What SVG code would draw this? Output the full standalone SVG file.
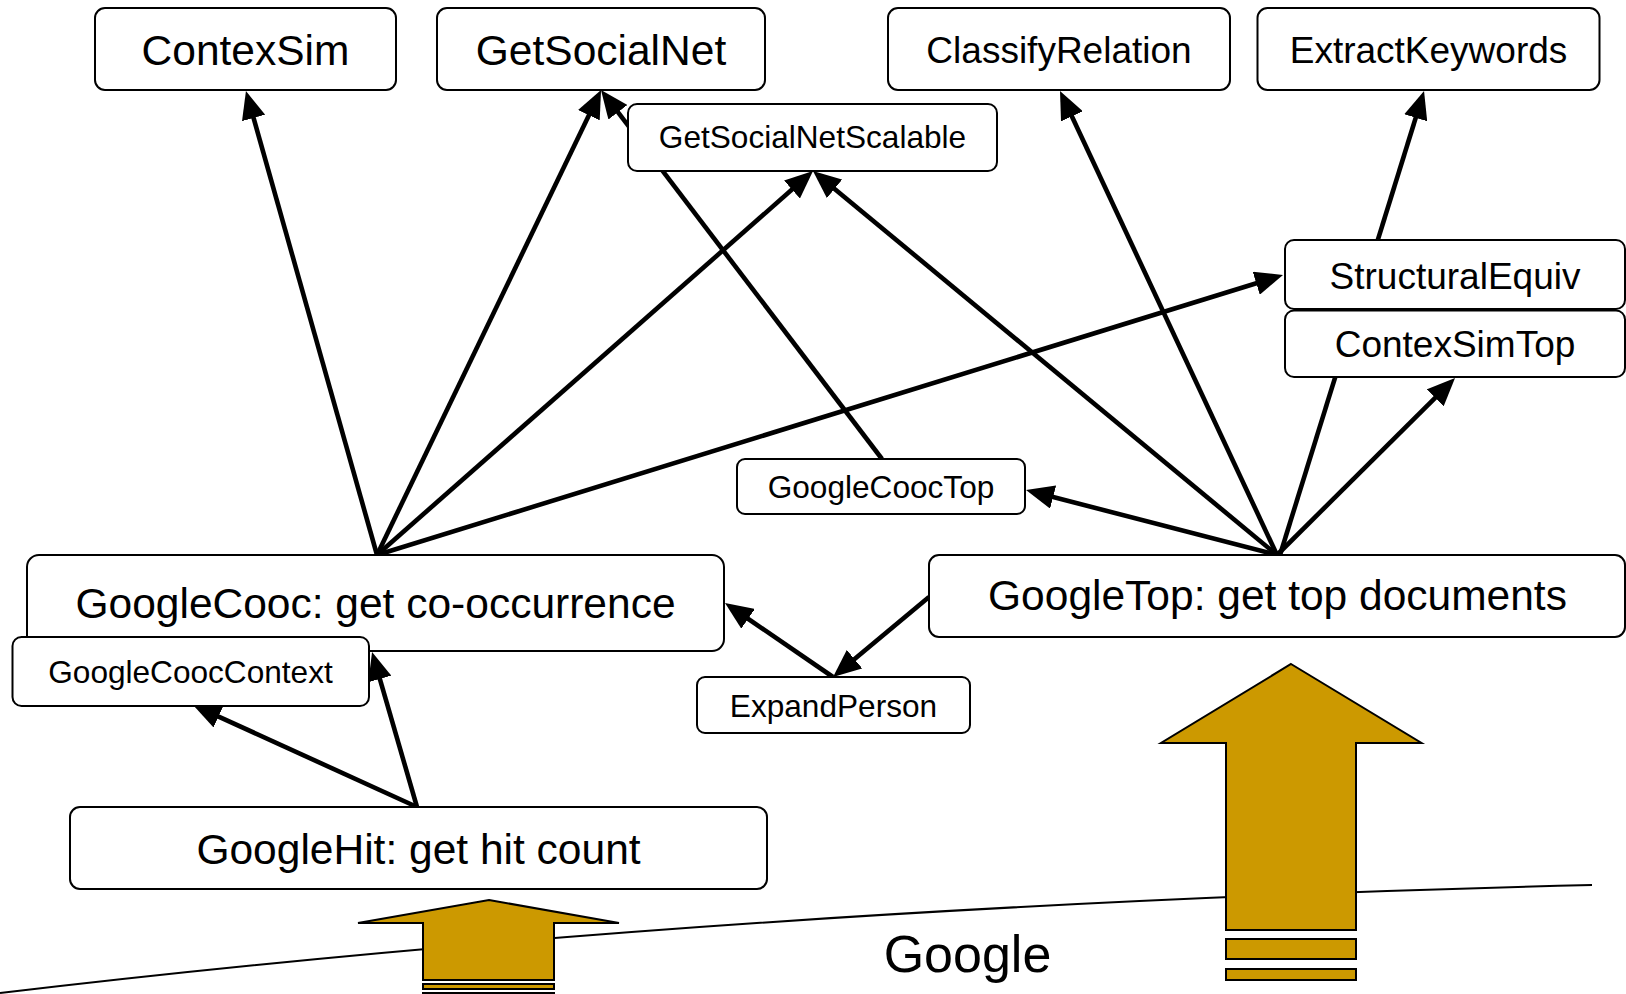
<svg xmlns="http://www.w3.org/2000/svg" width="1626" height="994" viewBox="0 0 1626 994">
<style>
.box{fill:#fff;stroke:#000;stroke-width:2}
.t{font-family:"Liberation Sans",Arial,sans-serif;text-anchor:middle;fill:#000}
.lg{font-size:42.5px}
.md{font-size:37px}
.sm{font-size:31.6px}
.c{stroke:#000;stroke-width:4.6;fill:none;marker-end:url(#ah)}
.big{fill:#CC9900;stroke:#000;stroke-width:2}
</style>
<defs>
<marker id="ah" viewBox="0 0 28 24" refX="12" refY="12" markerWidth="28" markerHeight="24" markerUnits="userSpaceOnUse" orient="auto">
<path d="M0,0 L28,12 L0,24 z" fill="#000"/>
</marker>
</defs>
<rect width="1626" height="994" fill="#fff"/>
<g id="background">
<path d="M0,993 C530,930 1060,898 1592,885" fill="none" stroke="#000" stroke-width="2"/>
<text class="t" x="967.5" y="972" font-size="52">Google</text>
<polygon class="big" points="1291,664 1421.5,743 1356,743 1356,930 1226,930 1226,743 1161,743"/>
<rect class="big" x="1226" y="939" width="130" height="20"/>
<rect class="big" x="1226" y="969" width="130" height="11"/>
<polygon class="big" points="489,900 619,923 554,923 554,980 423,980 423,923 358,923"/>
<rect class="big" x="423" y="984" width="131" height="5"/>
<rect class="big" x="423" y="993" width="131" height="6"/>
</g>
<g id="connectors">
<line class="c" x1="377" y1="555" x2="250.3" y2="106.4"/>
<line class="c" x1="377" y1="555" x2="594.1" y2="104.4"/>
<line class="c" x1="377" y1="555" x2="801" y2="181.6"/>
<line class="c" x1="377" y1="555" x2="1267.7" y2="279.7"/>
<line class="c" x1="882" y1="459" x2="610.7" y2="102.7"/>
<line class="c" x1="1277" y1="555" x2="1066.8" y2="105.5"/>
<line class="c" x1="1277" y1="555" x2="825.3" y2="181.2"/>
<line class="c" x1="1277" y1="555" x2="1041.5" y2="494"/>
<line class="c" x1="1277" y1="555" x2="1443.7" y2="389.3"/>
<line class="c" x1="1280" y1="555" x2="1419.3" y2="106.3"/>
<line class="c" x1="929" y1="597" x2="845.3" y2="666.8"/>
<line class="c" x1="833" y1="677" x2="738.2" y2="612"/>
<line class="c" x1="417" y1="807" x2="376.5" y2="667.4"/>
<line class="c" x1="417" y1="807" x2="207.6" y2="711.6"/>
</g>
<g id="ContexSim"><rect class="box" x="95" y="8" width="301" height="82" rx="10"/><text class="t lg" x="245.5" y="65">ContexSim</text></g>
<g id="GetSocialNet"><rect class="box" x="437" y="8" width="328" height="82" rx="10"/><text class="t lg" x="601" y="65">GetSocialNet</text></g>
<g id="ClassifyRelation"><rect class="box" x="888" y="8" width="342" height="82" rx="10"/><text class="t md" x="1059" y="63">ClassifyRelation</text></g>
<g id="ExtractKeywords"><rect class="box" x="1257.5" y="8" width="342" height="82" rx="10"/><text class="t md" x="1428.5" y="63">ExtractKeywords</text></g>
<g id="GetSocialNetScalable"><rect class="box" x="628" y="104" width="369" height="67" rx="9"/><text class="t sm" x="812.5" y="148">GetSocialNetScalable</text></g>
<g id="StructuralEquiv"><rect class="box" x="1285" y="240" width="340" height="69" rx="9"/><text class="t md" x="1455" y="289">StructuralEquiv</text></g>
<g id="ContexSimTop"><rect class="box" x="1285" y="310.5" width="340" height="66.5" rx="9"/><text class="t md" x="1455" y="357">ContexSimTop</text></g>
<g id="GoogleCoocTop"><rect class="box" x="737" y="459" width="288" height="55" rx="8"/><text class="t sm" x="881" y="498">GoogleCoocTop</text></g>
<g id="GoogleCooc"><rect class="box" x="27" y="555" width="697" height="96" rx="12"/><text class="t lg" x="375.5" y="618">GoogleCooc: get co-occurrence</text></g>
<g id="GoogleCoocContext"><rect class="box" x="12.5" y="637" width="356.5" height="69" rx="9"/><text class="t sm" x="190.5" y="683">GoogleCoocContext</text></g>
<g id="ExpandPerson"><rect class="box" x="697" y="677" width="273" height="56" rx="8"/><text class="t sm" x="833.5" y="717">ExpandPerson</text></g>
<g id="GoogleTop"><rect class="box" x="929" y="555" width="696" height="82" rx="10"/><text class="t lg" x="1277.5" y="610">GoogleTop: get top documents</text></g>
<g id="GoogleHit"><rect class="box" x="70" y="807" width="697" height="82" rx="10"/><text class="t lg" x="418.5" y="864">GoogleHit: get hit count</text></g>
</svg>
